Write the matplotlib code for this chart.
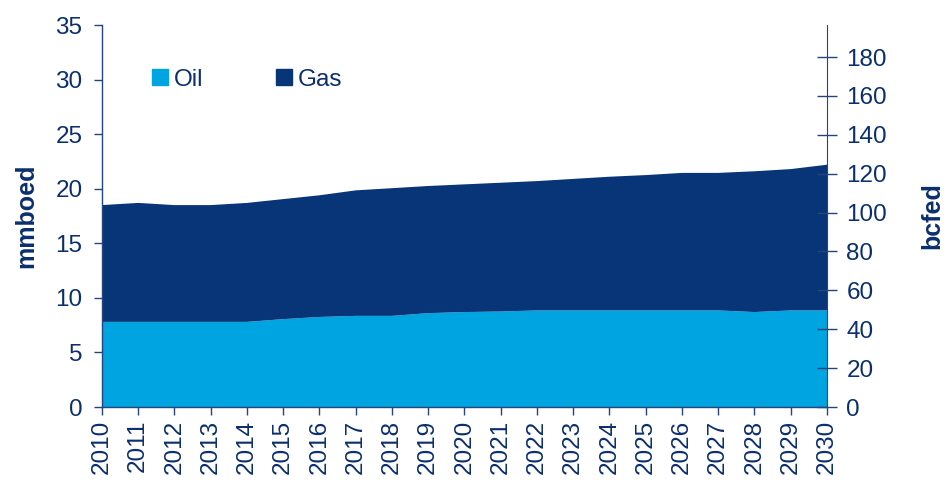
import numpy as np
import matplotlib.pyplot as plt
from matplotlib.patches import Patch

plt.rcParams['font.family'] = ['Liberation Sans', 'DejaVu Sans']

years = list(range(2010, 2031))
oil = [7.8, 7.8, 7.8, 7.8, 7.8, 8.05, 8.25, 8.35, 8.35, 8.6, 8.7,
       8.75, 8.85, 8.85, 8.85, 8.85, 8.85, 8.85, 8.7, 8.85, 8.85]
total = [18.5, 18.7, 18.5, 18.5, 18.7, 19.05, 19.4, 19.85, 20.05, 20.25, 20.4,
         20.55, 20.7, 20.9, 21.1, 21.25, 21.45, 21.45, 21.6, 21.8, 22.2]
gas = [t - o for t, o in zip(total, oil)]

text_color = "#0b2f6e"
spine_color = "#25457d"
oil_color = "#00a4e0"
gas_color = "#083577"
fs = 17.5

fig = plt.figure(figsize=(9.46, 4.82), dpi=100)
ax = fig.add_axes([0.1078, 0.1556, 0.7664, 0.7925])

ax.stackplot(years, oil, gas, colors=[oil_color, gas_color], linewidth=0)
ax.set_xlim(2010, 2030)
ax.set_ylim(0, 35)
ax.set_xticks(years)
ax.set_xticklabels([str(y) for y in years], rotation=90)
ax.set_yticks(range(0, 36, 5))

for side in ["top", "right"]:
    ax.spines[side].set_visible(False)
for side in ["left", "bottom"]:
    ax.spines[side].set_color(spine_color)
    ax.spines[side].set_linewidth(1)
ax.tick_params(axis="both", colors=spine_color, labelcolor=text_color,
               labelsize=fs, length=6, width=1, pad=3)
ax.tick_params(axis="y", pad=8)
ax.set_ylabel("mmboed", fontsize=18, fontweight="bold", color=text_color, labelpad=12)

ax2 = ax.twinx()
ax2.set_ylim(0, 196.5)
ax2.set_yticks(range(0, 181, 20))
for side in ["top", "left", "bottom"]:
    ax2.spines[side].set_visible(False)
ax2.spines["right"].set_color(spine_color)
ax2.tick_params(axis="y", colors=spine_color, labelcolor=text_color,
                labelsize=fs, direction="inout", length=14, width=1, pad=7)
ax2.set_ylabel("bcfed", fontsize=18, fontweight="bold", color=text_color, labelpad=24)

handles = [Patch(color=oil_color, label="Oil"), Patch(color=gas_color, label="Gas")]
ax.legend(handles=handles, loc="upper left", bbox_to_anchor=(0.055, 0.911), ncol=2,
          frameon=False, fontsize=fs, handlelength=0.66, handleheight=0.66,
          handletextpad=0.25, columnspacing=3.0, labelcolor=text_color,
          borderaxespad=0)

fig.savefig("out.png", dpi=100)
